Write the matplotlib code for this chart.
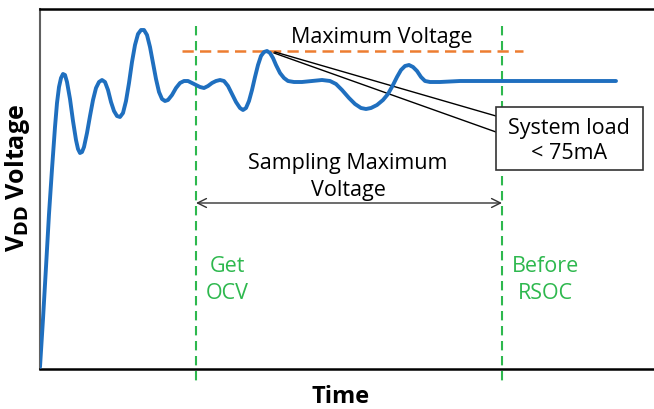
import matplotlib
matplotlib.use("Agg")
import matplotlib.pyplot as plt
from matplotlib.patches import Rectangle

# ----------------------------
# Data (time and voltage in arbitrary units)
# ----------------------------
time = [0, 3, 6, 9, 12, 15, 17, 19, 21, 23,
        25, 27, 30, 33, 36, 38, 40, 42, 44, 47,
        50, 53, 56, 59, 62, 65, 68, 71, 74, 77,
        80, 83, 86, 89, 92, 95, 98, 101, 104, 107,
        110, 113, 116, 119, 122, 125, 128, 132, 136, 140,
        144, 148, 152, 156, 160, 164, 168, 172, 176, 180,
        184, 188, 192, 196, 200, 203, 206, 209, 212, 215,
        218, 221, 224, 227, 230, 233, 236, 240, 244, 248,
        254, 262, 272, 282, 290, 296, 302, 309, 315, 321,
        326, 331, 337, 343, 348, 353, 357, 361, 365, 369,
        373, 377, 381, 385, 390, 400, 420, 460, 520, 576]
voltage = [2, 50, 102, 155, 200, 242, 266, 282, 291, 295,
           294, 287, 270, 248, 229, 220, 216, 217, 222, 236,
           253, 269, 281, 287, 289, 287, 279, 267, 258, 253,
           252, 256, 268, 286, 307, 324, 335, 339, 339, 334,
           322, 306, 290, 277, 270, 268, 269, 274, 281, 286,
           288, 288, 286, 284, 282, 281, 283, 286, 288, 289,
           288, 283, 275, 267, 261, 259, 261, 268, 279, 292,
           304, 313, 317, 318, 316, 311, 304, 296, 291, 288,
           287, 287, 288, 289, 288, 285, 279, 271, 265, 261,
           260, 261, 264, 269, 275, 284, 292, 299, 303, 304,
           302, 298, 292, 288, 287, 287, 288, 288, 288, 288]

t_get_ocv = 156
t_before_rsoc = 462
v_max = 318
t_max_line = [142, 483]
t_peak = 235

# ----------------------------
# Figure
# ----------------------------
plt.rcParams["font.family"] = ["Open Sans", "DejaVu Sans"]

fig = plt.figure(figsize=(6.54, 4.10), dpi=100)
ax = fig.add_axes([40 / 654, 40 / 410, 614 / 654, 360 / 410])
ax.set_xlim(0, 614)
ax.set_ylim(0, 360)
ax.set_xticks([])
ax.set_yticks([])
ax.spines["right"].set_visible(False)
ax.spines["left"].set_color("#606060")
ax.spines["left"].set_linewidth(1.5)
ax.spines["top"].set_linewidth(1.8)
ax.spines["bottom"].set_linewidth(1.8)

green = "#2eb84e"

# green markers: Get OCV / Before RSOC
for t in [t_get_ocv, t_before_rsoc]:
    ax.plot([t, t], [343, -15], color=green, lw=1.5, ls=(0, (4.5, 2.7)), clip_on=False)

# maximum voltage line
ax.plot(t_max_line, [v_max, v_max], color="#ed7d31", lw=1.8, ls=(0, (4.5, 2.5)))

# VDD curve
ax.plot(time, voltage, color="#1f6fbf", lw=2.8, solid_capstyle="round",
        solid_joinstyle="round", zorder=3)

# callout: system load
ax.plot([t_peak, 456], [317, 253], color="black", lw=1.0)
ax.plot([t_peak - 1, 456], [316, 237], color="black", lw=1.0)
ax.add_patch(Rectangle((456, 199), 147, 63, fill=True, facecolor="white",
                       edgecolor="#333333", lw=1.2, zorder=4))
ax.text(529, 229, "System load\n< 75mA", ha="center", va="center",
        fontsize=15.5, color="black", linespacing=1.3, zorder=5)

ax.text(342, 333, "Maximum Voltage", ha="center", va="center", fontsize=15.5)
ax.text(308, 193, "Sampling Maximum\nVoltage", ha="center", va="center",
        fontsize=15.5, linespacing=1.35)
ax.annotate("", xy=(t_get_ocv, 166), xytext=(t_before_rsoc, 166),
            arrowprops=dict(arrowstyle="<->", color="#333333", lw=1.0,
                            shrinkA=0, shrinkB=0, mutation_scale=16))

ax.text(187, 90, "Get\nOCV", ha="center", va="center", fontsize=15.5,
        color=green, linespacing=1.35)
ax.text(505, 90, "Before\nRSOC", ha="center", va="center", fontsize=15.5,
        color=green, linespacing=1.35)

fig.text(341 / 654, 1 - 397 / 410, "Time", ha="center", va="center",
         fontsize=17, fontweight="bold")
fig.text(18 / 654, 1 - 178 / 410, r"V$_{\mathbf{DD}}$ Voltage", ha="center",
         va="center", rotation=90, fontsize=18, fontweight="bold")

fig.savefig("out.png", dpi=100)
